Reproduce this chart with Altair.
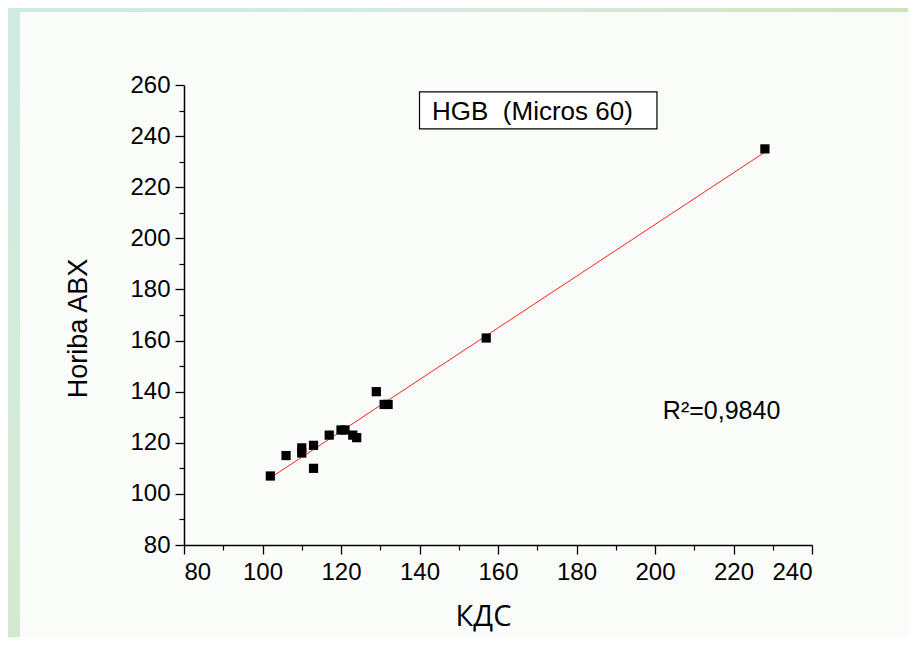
import altair as alt
import pandas as pd

# Data
kds = [102, 106, 110, 110, 113, 113, 117, 120, 121, 123, 124, 129, 131, 132, 157, 228]
horiba = [107, 115, 118, 116, 119, 110, 123, 125, 125, 123, 122, 140, 135, 135, 161, 235]

x_major = [80, 100, 120, 140, 160, 180, 200, 220, 240]
x_minor = [90, 110, 130, 150, 170, 190, 210, 230]
y_major = [80, 100, 120, 140, 160, 180, 200, 220, 240, 260]
y_minor = [90, 110, 130, 150, 170, 190, 210, 230, 250]

legend_box = {"x": [140.0], "x2": [200.5], "y": [242.8], "y2": [257.3]}
legend_text = {"x": [143.2], "y": [246.3], "label": ["HGB\u00a0 (Micros 60)"]}
r2_text = {"x": [202.0], "y": [129.3], "label": ["R\u00b2=0,9840"]}

df = pd.DataFrame({"kds": kds, "horiba": horiba})
one = pd.DataFrame({"a": [0]})

FONT = "Liberation Sans"
xs = alt.Scale(domain=[80, 240], nice=False, zero=False)
ys = alt.Scale(domain=[80, 260], nice=False, zero=False)

major_x_axis = alt.Axis(
    orient="bottom", values=x_major, title="КДС", tickSize=9, labelPadding=6,
    labelFont=FONT, labelFontSize=24, labelColor="black",
    titleFont="Open Sans", titleFontSize=29, titleFontWeight="normal", titleColor="black",
    titleX=299, titleY=80, titleBaseline="alphabetic", titleAlign="center",
    domainColor="black", domainWidth=1.5, tickColor="black", tickWidth=1.3, grid=False,
)
major_y_axis = alt.Axis(
    orient="left", values=y_major, title="Horiba ABX", tickSize=9, labelPadding=5,
    labelFont=FONT, labelFontSize=24, labelColor="black",
    titleFont=FONT, titleFontSize=27, titleFontWeight="normal", titleColor="black",
    titleX=-106, titleY=243, titleBaseline="middle", titleAlign="center", titleAngle=-90,
    domainColor="black", domainWidth=1.5, tickColor="black", tickWidth=1.3, grid=False,
)
minor_x_axis = alt.Axis(
    orient="bottom", values=x_minor, title=None, labels=False, domain=False,
    tickSize=5, tickColor="black", tickWidth=1.2, grid=False,
)
minor_y_axis = alt.Axis(
    orient="left", values=y_minor, title=None, labels=False, domain=False,
    tickSize=5, tickColor="black", tickWidth=1.2, grid=False,
)

left_band = alt.Chart(one).mark_rect(
    fill=alt.LinearGradient(
        gradient="linear", x1=0, y1=0, x2=0, y2=1,
        stops=[alt.GradientStop(color="#cfe9e4", offset=0),
               alt.GradientStop(color="#d5ebdc", offset=0.5),
               alt.GradientStop(color="#d3e9cf", offset=1)],
    )
).encode(x=alt.value(-176), x2=alt.value(-164), y=alt.value(-77), y2=alt.value(552))

top_band = alt.Chart(one).mark_rect(
    fill=alt.LinearGradient(
        gradient="linear", x1=0, y1=0, x2=1, y2=0,
        stops=[alt.GradientStop(color="#cfe9e4", offset=0),
               alt.GradientStop(color="#d6eae0", offset=0.5),
               alt.GradientStop(color="#cbe4bd", offset=1)],
    )
).encode(x=alt.value(-176), x2=alt.value(724), y=alt.value(-77), y2=alt.value(-73))

box = alt.Chart(pd.DataFrame(legend_box)).mark_rect(
    fill="white", stroke="black", strokeWidth=1.2
).encode(
    x=alt.X("x:Q", scale=xs, axis=None), x2="x2:Q",
    y=alt.Y("y:Q", scale=ys, axis=None), y2="y2:Q",
)
box_label = alt.Chart(pd.DataFrame(legend_text)).mark_text(
    align="left", baseline="alphabetic", font=FONT, fontSize=26, color="black"
).encode(
    x=alt.X("x:Q", scale=xs, axis=None), y=alt.Y("y:Q", scale=ys, axis=None), text="label:N"
)
r2_label = alt.Chart(pd.DataFrame(r2_text)).mark_text(
    align="left", baseline="alphabetic", font=FONT, fontSize=25, color="black"
).encode(
    x=alt.X("x:Q", scale=xs, axis=None), y=alt.Y("y:Q", scale=ys, axis=None), text="label:N"
)

fit = alt.Chart(df).transform_regression("kds", "horiba").mark_line(
    color="#ff2020", strokeWidth=1
).encode(
    x=alt.X("kds:Q", scale=xs, axis=minor_x_axis),
    y=alt.Y("horiba:Q", scale=ys, axis=minor_y_axis),
)

points = alt.Chart(df).mark_point(
    shape="square", filled=True, size=85, color="black", opacity=1
).encode(
    x=alt.X("kds:Q", scale=xs, axis=major_x_axis),
    y=alt.Y("horiba:Q", scale=ys, axis=major_y_axis),
)

chart = alt.layer(
    left_band, top_band, box, box_label, r2_label, fit, points
).resolve_axis(x="independent", y="independent").properties(
    width=628, height=460,
    autosize=alt.AutoSizeParams(type="none"),
    padding={"left": 176, "top": 77, "right": 96, "bottom": 92},
    background="#fafcfa",
).configure_view(stroke=None)

chart.save("out.html", embed_options={"renderer": "svg", "actions": False})
